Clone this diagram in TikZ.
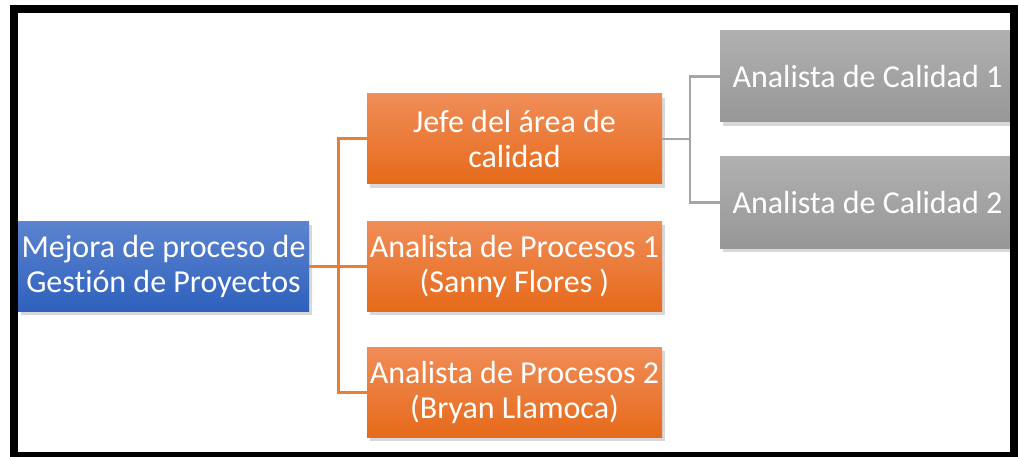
\documentclass[tikz,border=0pt]{standalone}
\usepackage{fontspec}
\setmainfont{Carlito}[Ligatures=NoCommon]
\usepackage{tikz}
\usetikzlibrary{shadows}
\definecolor{jefeorange}{HTML}{ED7D31}
\definecolor{ortop}{HTML}{F08D58}
\definecolor{orbot}{HTML}{E66A1A}
\definecolor{bltop}{HTML}{5C84CF}
\definecolor{blbot}{HTML}{2E61BD}
\definecolor{grtop}{HTML}{B0B0B0}
\definecolor{grbot}{HTML}{979797}
\definecolor{grline}{HTML}{A5A5A5}

\begin{document}
\begin{tikzpicture}[x=1pt,y=-1pt]
		\tikzstyle{box} = [rectangle, inner sep=0pt, text=white, align=center, font=\fontsize{32}{35}\selectfont, minimum height=90pt, drop shadow={opacity=0.3, shadow xshift=3pt, shadow yshift=-4pt}]
		\tikzstyle{proy} = [box, minimum width=291pt, top color=bltop, bottom color=blbot]
		\tikzstyle{area} = [box, minimum width=295pt, top color=ortop, bottom color=orbot]
		\tikzstyle{calidad} = [box, minimum width=295pt, minimum height=91pt, top color=grtop, bottom color=grbot]
		\tikzstyle{oline} = [draw=jefeorange, line width=3pt]
		\tikzstyle{gline} = [draw=grline, line width=2.5pt]
		\clip (0,0) rectangle (1019,457);
		\fill[white] (0,0) rectangle (1019,457);

		\node [proy] (mejora) at (163.5,266) {Mejora de proceso de\\Gestión de Proyectos};
		\node [area] (jefe) at (514.5,139) {Jefe del área de\\calidad};
		\node [area] (proc1) at (514.5,266) {Analista de Procesos 1\\(Sanny Flores )};
		\node [area] (proc2) at (514.5,392) {Analista de Procesos 2\\(Bryan Llamoca)};
		\node [calidad] (cal1) at (867.5,76.5) {Analista de Calidad 1};
		\node [calidad] (cal2) at (867.5,202.5) {Analista de Calidad 2};

		\coordinate (obus) at (338,266);
		\coordinate (gbus) at (690,139);
		\draw[oline] (mejora.east) -- (proc1.west);
		\draw[oline] (obus) |- (jefe.west);
		\draw[oline] (obus) |- (proc2.west);
		\draw[gline] (jefe.east) -- (gbus);
		\draw[gline] (gbus) |- (cal1.west);
		\draw[gline] (gbus) |- (cal2.west);

		%marco
		\draw[line width=8pt] (14,9) rectangle (1014,456);
	\end{tikzpicture}
\end{document}
